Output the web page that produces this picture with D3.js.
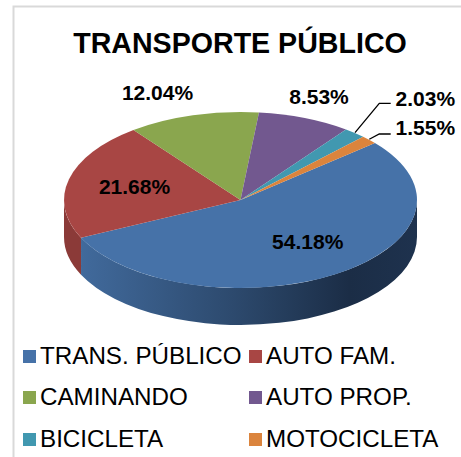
<!DOCTYPE html>
<meta charset="utf-8">
<title>Transporte público</title>
<style>
body { margin: 0; background: #fff; }
svg { display: block; font-family: "Liberation Sans", Arial, sans-serif; }
</style>
<script src="https://d3js.org/d3.v7.min.js"></script>
<body>
<script>
var width = 461, height = 457;

var categories = ["TRANS. PÚBLICO", "AUTO FAM.", "CAMINANDO", "AUTO PROP.", "BICICLETA", "MOTOCICLETA"];
var values = [54.18, 21.68, 12.04, 8.53, 2.03, 1.55];
var colors = ["#4672a8", "#a84644", "#8aa64e", "#72588f", "#4198b0", "#db843d"];
var sideColors = ["url(#blueSide)", "#8b3a38"];

// where the labels sit (centre, baseline), same order as the categories
var labelPos = [[307.7, 249.3], [134.5, 194], [157.5, 100], [319, 104], [425.3, 106], [425.3, 135]];

var cx = 240.5, cy = 200, rx = 176.5, ry = 88, depth = 37;
var start = 49.6 * Math.PI / 180;

var svg = d3.select("body").append("svg")
    .attr("width", width)
    .attr("height", height);

var defs = svg.append("defs");
var grad = defs.append("linearGradient")
    .attr("id", "blueSide")
    .attr("gradientUnits", "userSpaceOnUse")
    .attr("x1", 80).attr("x2", 417).attr("y1", 0).attr("y2", 0);
grad.append("stop").attr("offset", "0%").attr("stop-color", "#416a9c");
grad.append("stop").attr("offset", "45%").attr("stop-color", "#2d4a6e");
grad.append("stop").attr("offset", "80%").attr("stop-color", "#1b2d46");
grad.append("stop").attr("offset", "100%").attr("stop-color", "#1e324e");

// frame of the original picture
svg.append("path")
    .attr("d", "M13.5,457V6.5H461")
    .attr("fill", "none")
    .attr("stroke", "#d9d9d9")
    .attr("stroke-width", 2);

svg.append("text")
    .attr("x", 240)
    .attr("y", 52.5)
    .attr("text-anchor", "middle")
    .attr("font-size", 28.6)
    .attr("font-weight", "bold")
    .text("TRANSPORTE PÚBLICO");

var pie = d3.pie().sort(null)
    .startAngle(start)
    .endAngle(start + 2 * Math.PI);
var slices = pie(values);

var px = function(a) { return cx + rx * Math.sin(a); };
var py = function(a) { return cy - ry * Math.cos(a); };

// side wall, only the front half of the ellipse shows
function wall(a0, a1) {
  return "M" + px(a0) + "," + py(a0)
    + "A" + rx + "," + ry + " 0 0 1 " + px(a1) + "," + py(a1)
    + "L" + px(a1) + "," + (py(a1) + depth)
    + "A" + rx + "," + ry + " 0 0 0 " + px(a0) + "," + (py(a0) + depth) + "Z";
}
svg.append("path")
    .attr("d", wall(slices[1].startAngle, 1.5 * Math.PI))
    .attr("fill", sideColors[1]);
svg.append("path")
    .attr("d", wall(Math.PI / 2, slices[0].endAngle))
    .attr("fill", sideColors[0]);

// top face, unit arc squashed to the ellipse
var arc = d3.arc().innerRadius(0).outerRadius(100);
svg.append("g")
    .attr("transform", "translate(" + cx + "," + cy + ") scale(" + rx / 100 + "," + ry / 100 + ")")
  .selectAll("path")
    .data(slices)
  .enter().append("path")
    .attr("d", arc)
    .attr("fill", function(d, i) { return colors[i]; });

// leader lines for the two small slices
var leaders = [[[355, 132.7], [379.3, 103.3], [390.7, 103.3]], [[369.3, 139.3], [379.3, 134], [390.7, 134]]];
svg.selectAll("path.leader")
    .data(leaders)
  .enter().append("path")
    .attr("class", "leader")
    .attr("d", d3.line())
    .attr("fill", "none")
    .attr("stroke", "#000")
    .attr("stroke-width", 1.3);

svg.selectAll("text.value")
    .data(values)
  .enter().append("text")
    .attr("class", "value")
    .attr("x", function(d, i) { return labelPos[i][0]; })
    .attr("y", function(d, i) { return labelPos[i][1]; })
    .attr("text-anchor", "middle")
    .attr("font-size", 21)
    .attr("font-weight", "bold")
    .text(function(d) { return d.toFixed(2) + "%"; });

// legend, two columns three rows
var legendX = d3.scaleOrdinal().domain([0, 1]).range([23, 249]);
var legendY = d3.scaleOrdinal().domain([0, 1, 2]).range([356.5, 397.5, 439.5]);
var legend = svg.selectAll("g.legend")
    .data(categories)
  .enter().append("g")
    .attr("class", "legend")
    .attr("transform", function(d, i) {
      return "translate(" + legendX(i % 2) + "," + legendY(Math.floor(i / 2)) + ")";
    });
legend.append("rect")
    .attr("y", -6.5)
    .attr("width", 13)
    .attr("height", 13)
    .attr("fill", function(d, i) { return colors[i]; });
legend.append("text")
    .attr("x", 17)
    .attr("y", 7)
    .attr("font-size", 24.2)
    .text(function(d) { return d; });
</script>
